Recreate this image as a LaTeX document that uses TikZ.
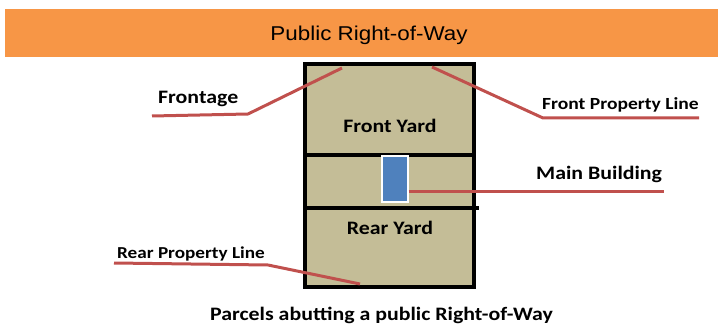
\documentclass[tikz,border=0pt]{standalone}
\usepackage{fontspec}
\usepackage{xcolor}
\usepackage{tikz}
\usetikzlibrary{positioning, calc}
\setmainfont{Carlito}[FakeStretch=1.15]
\newfontfamily\titlefont{Liberation Sans}[FakeStretch=1.12]
\definecolor{roworange}{HTML}{F79646}
\definecolor{parceltan}{HTML}{C4BD97}
\definecolor{buildingblue}{HTML}{4F81BD}
\definecolor{leaderred}{HTML}{C0504D}

\begin{document}
\begin{tikzpicture}[
    x=1pt, y=-1pt,
    band/.style={rectangle, fill=roworange, inner sep=0pt, minimum width=713pt, minimum height=48pt, font=\titlefont\fontsize{20}{24}\selectfont},
    parcel/.style={rectangle, draw=black, fill=parceltan, line width=3.6pt, minimum width=169pt, minimum height=223pt},
    building/.style={rectangle, draw=white, fill=buildingblue, line width=1.2pt, minimum width=26pt, minimum height=46pt},
    yard/.style={inner sep=0pt, anchor=base, font=\bfseries\fontsize{19}{22}\selectfont},
    tag/.style={inner sep=0pt, anchor=base west, font=\bfseries\fontsize{19}{22}\selectfont},
    divider/.style={draw=black, line width=3.6pt},
    leader/.style={draw=leaderred, line width=3pt}
]
\useasboundingbox (0,0) rectangle (718,326);

\node[band] (row) at (361.5,33) {};
\node[inner sep=0pt, anchor=base, font=\titlefont\fontsize{20}{24}\selectfont] (rowtext) at (369,41) {Public Right-of-Way};

\node[parcel] (lot) at (389.5,175.5) {};
\coordinate (div1) at (305,155);
\coordinate (div2) at (305,208);
\draw[divider] (lot.west |- div1) -- (lot.east |- div1);
\draw[divider] (lot.west |- div2) -- ([xshift=3pt]lot.east |- div2);

\node[yard] (front) at (390,133) {Front Yard};
\node[yard] (rear) at (390,234) {Rear Yard};
\node[building] (house) at (395,179) {};

\node[tag] (frontage) at (158,104) {Frontage};
\node[tag, font=\bfseries\fontsize{17}{20}\selectfont] (fpl) at (542,110) {Front Property Line};
\node[tag] (mainbldg) at (536,180) {Main Building};
\node[tag, font=\bfseries\fontsize{16.7}{20}\selectfont] (rpl) at (117,258) {Rear Property Line};

\coordinate (frontageend) at (152,116);
\coordinate (frontagetip) at (342,68);
\coordinate (fplend) at (699,118);
\coordinate (fpltip) at (432,67);
\coordinate (mbend) at (664,191.5);
\coordinate (rplend) at (114,263);
\coordinate (rpltip) at (360,284);

\draw[leader] (frontageend) -- (248,114) -- (frontagetip);
\draw[leader] (fpltip) -- (543,118) -- (fplend);
\draw[leader] (house.east |- mbend) -- (mbend);
\draw[leader] (rplend) -- (268,265) -- (rpltip);

\node[yard, font=\bfseries\fontsize{19}{22}\selectfont] (caption) at (381.5,320) {Parcels abutting a public Right-of-Way};

\end{tikzpicture}
\end{document}
